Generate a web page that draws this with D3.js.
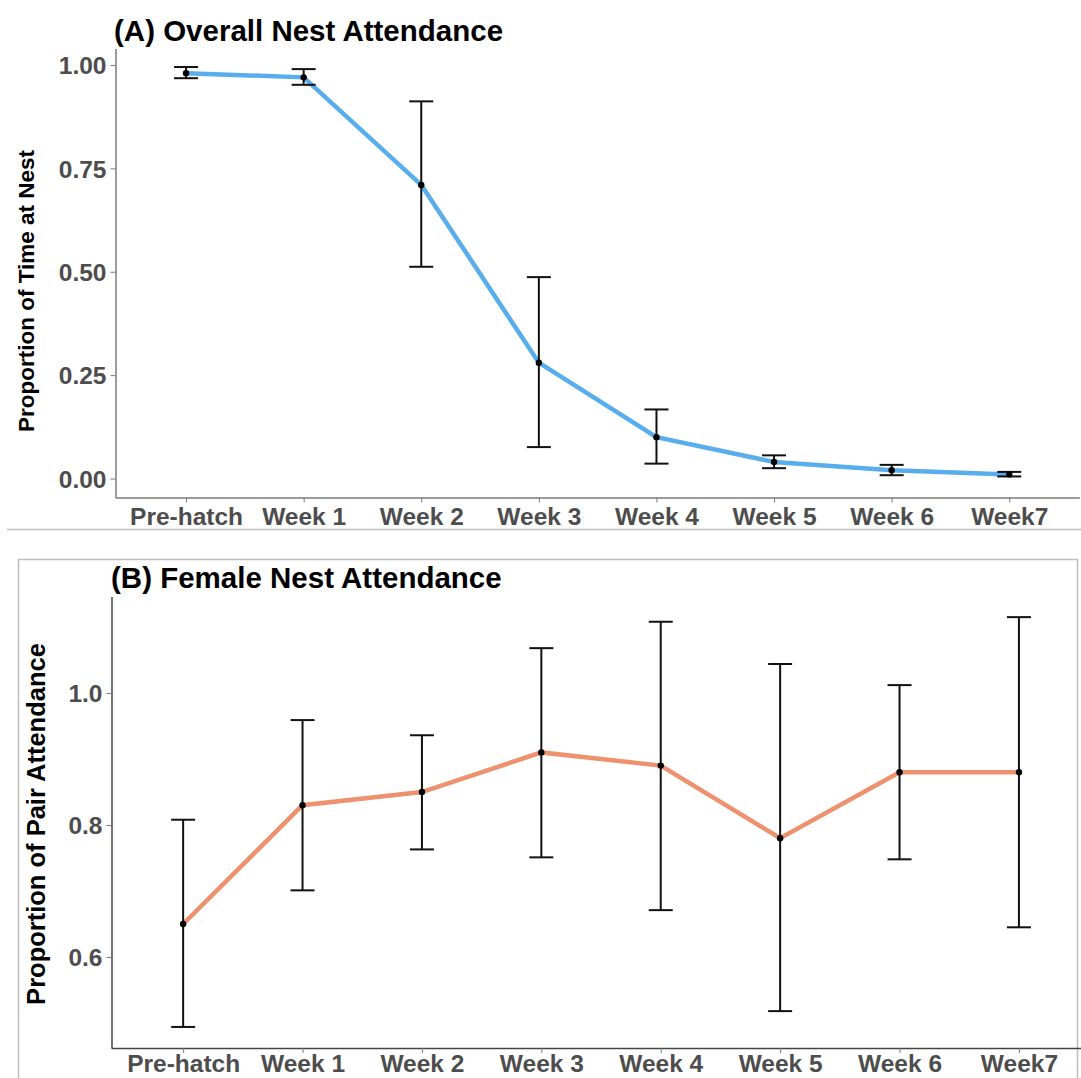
<!DOCTYPE html>
<html>
<head>
<meta charset="utf-8">
<script src="https://cdn.jsdelivr.net/npm/d3@7"></script>
<style>
  body { margin: 0; background: #fff; }
  svg text { font-family: "Liberation Sans", Arial, sans-serif; font-weight: bold; }
  .tick text { fill: #4d4d4d; font-size: 24.5px; }
  .tick line { stroke: #7a7a7a; }
</style>
</head>
<body>
<div id="chart"></div>
<script>
// categories shared by both panels
var weeks = ["Pre-hatch", "Week 1", "Week 2", "Week 3", "Week 4", "Week 5", "Week 6", "Week7"];

// (A) overall nest attendance: mean and error bar ends
var overallMean = [0.98, 0.97, 0.71, 0.28, 0.10, 0.04, 0.02, 0.01];
var overallLow  = [0.968, 0.952, 0.512, 0.076, 0.036, 0.025, 0.008, 0.005];
var overallHigh = [0.995, 0.99, 0.912, 0.487, 0.167, 0.056, 0.033, 0.016];
var overallTicks = [0, 0.25, 0.5, 0.75, 1];

// (B) female nest attendance
var femaleMean = [0.65, 0.83, 0.85, 0.91, 0.89, 0.78, 0.88, 0.88];
var femaleLow  = [0.494, 0.701, 0.763, 0.751, 0.671, 0.518, 0.748, 0.645];
var femaleHigh = [0.808, 0.959, 0.936, 1.068, 1.108, 1.044, 1.012, 1.115];
var femaleTicks = [0.6, 0.8, 1.0];

var W = 1081, H = 1078;

var svg = d3.select("#chart").append("svg")
    .attr("width", W)
    .attr("height", H);

// panel borders
svg.append("line")
    .attr("x1", 7).attr("x2", W)
    .attr("y1", 529.5).attr("y2", 529.5)
    .attr("stroke", "#bdbdbd").attr("stroke-width", 1.5);
svg.append("rect")
    .attr("x", 18.5).attr("y", 559.5)
    .attr("width", 1059).attr("height", 530)
    .attr("fill", "none")
    .attr("stroke", "#bdbdbd").attr("stroke-width", 1.5);

// draws one panel
function drawPanel(o) {
  var mean = o.mean, low = o.low, high = o.high;
  var rows = weeks.map(function(w, i) {
    return {week: w, mean: mean[i], low: low[i], high: high[i]};
  });

  // discrete x with ggplot style 0.6 expansion
  var step = o.step;
  var x = d3.scalePoint().domain(weeks)
      .range([o.left + 0.6 * step, o.left + 7.6 * step]);
  var y = d3.scaleLinear().domain(o.domain).range([o.bottom, o.top]);

  var g = svg.append("g");

  // title
  g.append("text")
      .attr("x", o.titleX)
      .attr("y", o.titleY)
      .attr("font-size", 29.5)
      .attr("fill", "#000")
      .text(o.title);

  // axes
  var yAxis = g.append("g")
      .attr("transform", "translate(" + o.left + ",0)")
      .call(d3.axisLeft(y).tickValues(o.ticks).tickFormat(d3.format(o.fmt))
        .tickSize(5).tickPadding(4));
  yAxis.select(".domain").attr("stroke", o.axisColor).attr("stroke-width", 1.5)
      .attr("d", "M0.5," + o.top + "V" + o.bottom);
  yAxis.selectAll(".tick text").attr("dy", "0.36em");

  var xAxis = g.append("g")
      .attr("transform", "translate(0," + o.bottom + ")")
      .call(d3.axisBottom(x).tickSize(5).tickPadding(o.xPad));
  xAxis.select(".domain").attr("stroke", o.axisColor).attr("stroke-width", 1.5)
      .attr("d", "M" + o.left + ",0.5H" + (o.left + 8.2 * step));
  xAxis.selectAll(".tick text").attr("dy", "0.71em");

  // y axis title
  g.append("text")
      .attr("transform", "translate(" + o.yTitleX + "," + o.yTitleY + ") rotate(-90)")
      .attr("text-anchor", "middle")
      .attr("font-size", o.yTitleSize)
      .attr("fill", "#000")
      .text(o.yTitle);

  // the line
  var line = d3.line()
      .x(function(d) { return x(d.week); })
      .y(function(d) { return y(d.mean); });
  g.append("path")
      .datum(rows)
      .attr("d", line)
      .attr("fill", "none")
      .attr("stroke", o.color)
      .attr("stroke-width", 4.5);

  // error bars
  var bars = g.selectAll(".err")
      .data(rows)
    .enter().append("g")
      .attr("class", "err")
      .attr("stroke", "#111")
      .attr("stroke-width", 2);
  bars.append("line")
      .attr("x1", function(d) { return x(d.week); })
      .attr("x2", function(d) { return x(d.week); })
      .attr("y1", function(d) { return y(d.low); })
      .attr("y2", function(d) { return y(d.high); });
  bars.append("line")
      .attr("x1", function(d) { return x(d.week) - 12; })
      .attr("x2", function(d) { return x(d.week) + 12; })
      .attr("y1", function(d) { return y(d.low); })
      .attr("y2", function(d) { return y(d.low); });
  bars.append("line")
      .attr("x1", function(d) { return x(d.week) - 12; })
      .attr("x2", function(d) { return x(d.week) + 12; })
      .attr("y1", function(d) { return y(d.high); })
      .attr("y2", function(d) { return y(d.high); });

  // dots
  g.selectAll(".dot")
      .data(rows)
    .enter().append("circle")
      .attr("r", 3.2)
      .attr("fill", "#000")
      .attr("cx", function(d) { return x(d.week); })
      .attr("cy", function(d) { return y(d.mean); });
}

drawPanel({
  title: "(A) Overall Nest Attendance", titleX: 114, titleY: 41,
  yTitle: "Proportion of Time at Nest", yTitleX: 34, yTitleY: 291, yTitleSize: 22.5,
  mean: overallMean, low: overallLow, high: overallHigh,
  ticks: overallTicks, fmt: ".2f", xPad: 5,
  left: 115.5, step: 117.6, top: 49, bottom: 497.5,
  domain: [-0.0459, 1.0386],
  color: "#58aeec", axisColor: "#7a7a7a"
});

drawPanel({
  title: "(B) Female Nest Attendance", titleX: 111, titleY: 588,
  yTitle: "Proportion of Pair Attendance", yTitleX: 45, yTitleY: 824, yTitleSize: 25.5,
  mean: femaleMean, low: femaleLow, high: femaleHigh,
  ticks: femaleTicks, fmt: ".1f", xPad: 2,
  left: 111.5, step: 119.4, top: 597, bottom: 1048,
  domain: [0.4621, 1.1455],
  color: "#ee916f", axisColor: "#444"
});
</script>
</body>
</html>
